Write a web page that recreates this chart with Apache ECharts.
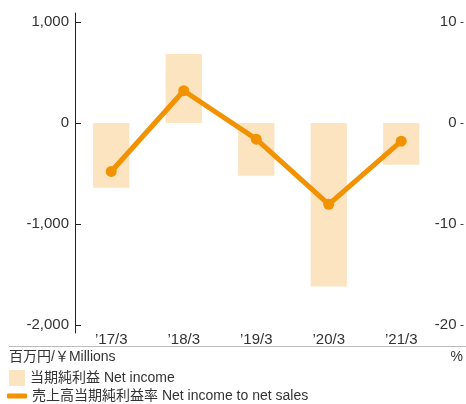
<!DOCTYPE html>
<html>
<head>
<meta charset="utf-8">
<script src="https://cdn.jsdelivr.net/npm/echarts@6/dist/echarts.min.js"></script>
<style>
  html, body { margin: 0; padding: 0; background: #fff; }
  #chart { width: 466px; height: 404px; }
</style>
</head>
<body>
<div id="chart"></div>
<script>
// 年度
const categories = ["\u201917/3", "\u201918/3", "\u201919/3", "\u201920/3", "\u201921/3"];
// 当期純利益（百万円）
const netIncome = [-640, 683, -522, -1620, -413];
// 売上高当期純利益率（%）
const netIncomeRatio = [-4.8, 3.2, -1.6, -8.05, -1.8];
// 目盛り
const leftTicks = [-2000, -1000, 0, 1000];
const rightTicks = [-20, -10, 0, 10];

const font = "'Liberation Sans', 'Noto Sans CJK JP', sans-serif";
const textColor = "#333";
const orange = "#f39200";

const chart = echarts.init(document.getElementById("chart"));
const option = {
  animation: false,
  grid: { left: 75, right: 28.5, top: 13, bottom: 71 },
  xAxis: {
    type: "category",
    data: categories,
    axisLine: { show: false },
    axisTick: { show: false },
    axisLabel: { color: textColor, fontSize: 15, fontFamily: font, margin: -1 },
  },
  yAxis: [
    {
      type: "value",
      min: -2080,
      max: 1090,
      splitLine: { show: false },
      axisLine: { show: true, lineStyle: { color: "#222", width: 1 } },
      axisTick: { show: true, inside: true, length: 6, customValues: leftTicks, lineStyle: { color: "#222" } },
      axisLabel: {
        color: textColor, fontSize: 15, fontFamily: font, margin: 6,
        customValues: leftTicks,
        formatter: (v) => v.toLocaleString("en-US"),
      },
    },
    {
      type: "value",
      position: "right",
      offset: 23,
      min: -20.8,
      max: 10.9,
      splitLine: { show: false },
      axisLine: { show: false },
      axisTick: { show: true, inside: false, length: 3, customValues: rightTicks, lineStyle: { color: "#444" } },
      axisLabel: {
        inside: true, color: textColor, fontSize: 15, fontFamily: font, margin: 4,
        customValues: rightTicks,
      },
    },
  ],
  legend: [
    {
      data: [{ name: "当期純利益 Net income", icon: "rect" }],
      left: 9,
      top: 370,
      itemWidth: 16,
      itemHeight: 16,
      textStyle: { color: textColor, fontSize: 14, fontFamily: font },
      padding: 0,
    },
    {
      data: [{ name: "売上高当期純利益率 Net income to net sales", icon: "roundRect" }],
      left: 7,
      top: 389,
      itemWidth: 20,
      itemHeight: 5,
      textStyle: { color: textColor, fontSize: 14, fontFamily: font },
      padding: 0,
    },
  ],
  graphic: [
    {
      type: "line",
      shape: { x1: 9, y1: 346.5, x2: 466, y2: 346.5 },
      style: { stroke: "#bbb", lineWidth: 1 },
    },
    {
      type: "text",
      left: 9,
      top: 350,
      style: { text: "百万円/￥Millions", fill: textColor, font: "14px " + font },
    },
    {
      type: "text",
      right: 3,
      top: 350,
      style: { text: "%", fill: textColor, font: "14px " + font },
    },
  ],
  series: [
    {
      name: "当期純利益 Net income",
      type: "bar",
      data: netIncome,
      yAxisIndex: 0,
      barWidth: "50%",
      itemStyle: { color: "#fce4c1" },
    },
    {
      name: "売上高当期純利益率 Net income to net sales",
      type: "line",
      data: netIncomeRatio,
      yAxisIndex: 1,
      symbol: "circle",
      symbolSize: 11,
      lineStyle: { color: orange, width: 5 },
      itemStyle: { color: orange },
    },
  ],
};
chart.setOption(option);
</script>
</body>
</html>
